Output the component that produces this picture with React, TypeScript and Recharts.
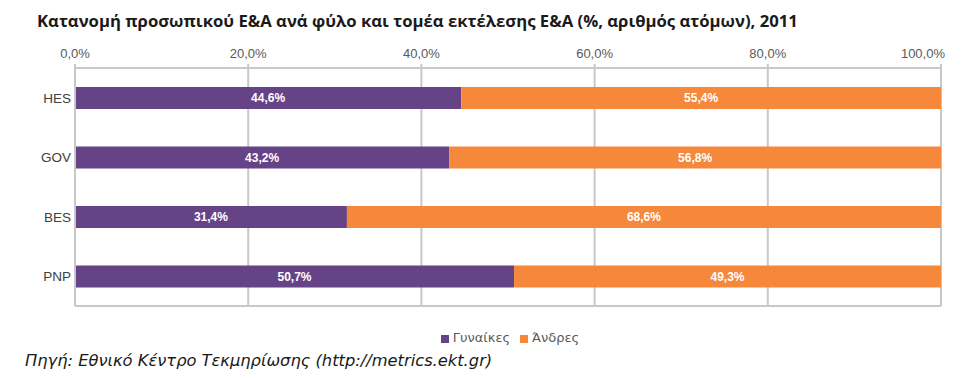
import { BarChart, Bar, XAxis, YAxis, CartesianGrid, Legend, LabelList } from "recharts";

const sectors = ["HES", "GOV", "BES", "PNP"];
const women = [44.6, 43.2, 31.4, 50.7];
const men = [55.4, 56.8, 68.6, 49.3];
const ticks = [0, 20, 40, 60, 80, 100];

const PURPLE = "#664387";
const ORANGE = "#F5883B";
const GRID = "#c8c8c8";
const ARIAL = "'Liberation Sans', Arial, sans-serif";

const data = sectors.map((name, i) => ({ name, women: women[i], men: men[i] }));

const pct = (v: number) => v.toFixed(1).replace(".", ",") + "%";

// last label sits inside the plot edge like in the original
function TopTick(props: any) {
  const { x, y, payload } = props;
  const last = payload.value === ticks[ticks.length - 1];
  return (
    <text
      x={last ? x + 4 : x}
      y={y}
      textAnchor={last ? "end" : "middle"}
      fill="#595959"
      fontSize={13}
      fontFamily={ARIAL}
    >
      {pct(payload.value)}
    </text>
  );
}

export default function App() {
  return (
    <div style={{ position: "relative", width: 969, height: 378, margin: -8, background: "#fff" }}>
      <div
        style={{
          position: "absolute",
          left: 37,
          top: 9,
          fontFamily: "'Open Sans', sans-serif",
          fontWeight: 700,
          fontSize: 16.7,
          color: "#1a1a1a",
          whiteSpace: "nowrap",
        }}
      >
        Κατανομή προσωπικού Ε&amp;Α ανά φύλο και τομέα εκτέλεσης Ε&amp;Α (%, αριθμός ατόμων), 2011
      </div>
      <BarChart
        width={969}
        height={378}
        data={data}
        layout="vertical"
        barSize={22}
        margin={{ top: 38, right: 28, left: 15, bottom: 33 }}
      >
        <CartesianGrid horizontal={false} stroke={GRID} strokeWidth={2} />
        <XAxis
          type="number"
          orientation="top"
          domain={[0, 100]}
          ticks={ticks}
          height={30}
          tickSize={4}
          tickMargin={6}
          axisLine={{ stroke: GRID, strokeWidth: 2 }}
          tickLine={{ stroke: GRID, strokeWidth: 2 }}
          tick={<TopTick />}
        />
        <XAxis
          xAxisId="bottom"
          type="number"
          orientation="bottom"
          domain={[0, 100]}
          height={24}
          tick={false}
          tickLine={false}
          axisLine={{ stroke: GRID, strokeWidth: 2 }}
        />
        <YAxis
          type="category"
          dataKey="name"
          width={60}
          tickSize={0}
          tickMargin={4}
          axisLine={{ stroke: GRID, strokeWidth: 2 }}
          tick={{ fill: "#404040", fontSize: 13.5, fontFamily: ARIAL }}
        />
        <Legend
          verticalAlign="bottom"
          iconType="square"
          iconSize={8}
          itemSorter={(item: any) => (item.dataKey === "women" ? 0 : 1)}
          wrapperStyle={{
            left: 80,
            width: 870,
            fontFamily: "'DejaVu Sans', Verdana, sans-serif",
            fontSize: 13,
          }}
          formatter={(value: string) => <span style={{ color: "#595959" }}>{value}</span>}
        />
        <Bar dataKey="women" name="Γυναίκες" stackId="a" fill={PURPLE} isAnimationActive={false}>
          <LabelList
            dataKey="women"
            position="center"
            formatter={(v: number) => pct(v)}
            style={{ fill: "#fff", fontWeight: 700, fontSize: 12, fontFamily: ARIAL }}
          />
        </Bar>
        <Bar dataKey="men" name="Άνδρες" stackId="a" fill={ORANGE} isAnimationActive={false}>
          <LabelList
            dataKey="men"
            position="center"
            formatter={(v: number) => pct(v)}
            style={{ fill: "#fff", fontWeight: 700, fontSize: 12, fontFamily: ARIAL }}
          />
        </Bar>
      </BarChart>
      <div
        style={{
          position: "absolute",
          left: 25,
          top: 351,
          fontFamily: "'DejaVu Sans', Verdana, sans-serif",
          fontStyle: "italic",
          fontSize: 16.3,
          color: "#1a1a1a",
          whiteSpace: "nowrap",
        }}
      >
        Πηγή: Εθνικό Κέντρο Τεκμηρίωσης (http://metrics.ekt.gr)
      </div>
    </div>
  );
}
